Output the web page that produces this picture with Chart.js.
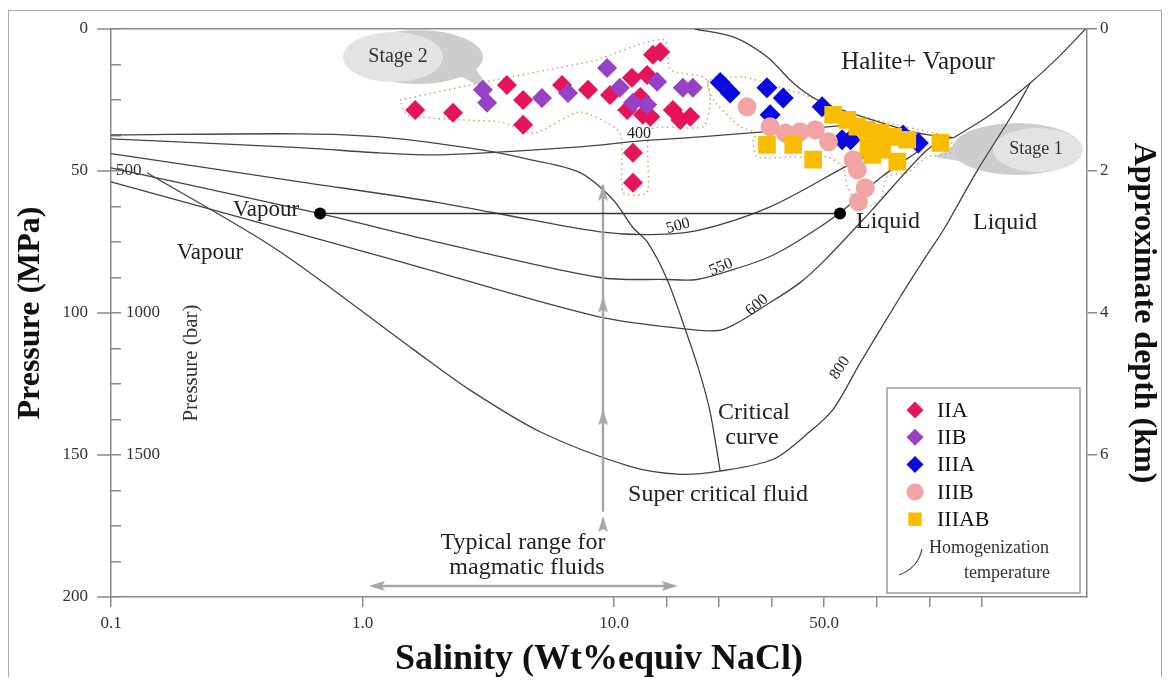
<!DOCTYPE html>
<html>
<head>
<meta charset="utf-8">
<title>Salinity - Pressure diagram</title>
<script src="https://cdn.jsdelivr.net/npm/chart.js@4.4.1/dist/chart.umd.min.js"></script>
<style>
  html, body { margin: 0; padding: 0; background: #fff; }
  #wrap { position: relative; width: 1169px; height: 681px; }
  #frame { position: absolute; left: 8px; top: 10px; width: 1152px; height: 666px;
           border: 1.5px solid #a9a9a9; border-bottom: none; pointer-events: none; }
  canvas { display: block; }
</style>
</head>
<body>
<div id="wrap">
  <canvas id="chart" width="1169" height="681"></canvas>
  <div id="frame"></div>
</div>
<script>
/* ============================================================
   NaCl-H2O pressure vs salinity diagram (fluid inclusions)
   x = salinity (wt% NaCl equiv), y = pressure (MPa)
   ============================================================ */

const X_TICKS  = [0.1, 1, 10, 20, 30, 40, 50, 60, 70, 80];
const X_LABELS = ['0.1', '1.0', '10.0', '', '', '', '50.0', '', '', ''];
const BAR_LABELS = [500, 1000, 1500];           // bar equivalents on the MPa axis

// inclusion groups  [salinity, pressure]
const IIA = [
  [1.62, 28.5], [2.29, 29.5], [3.75, 19.7], [4.35, 25.0], [4.35, 33.7],
  [6.21, 19.7], [7.88, 21.4], [9.64, 23.2], [13.4, 17.2], [16.3, 16.2],
  [17.4, 9.1], [18.8, 8.1], [12.5, 28.5], [15.5, 30.2], [16.9, 30.9],
  [21.2, 28.5], [24.5, 30.9], [22.6, 32.0], [15.0, 23.9], [13.6, 43.6],
  [13.6, 54.1]
];
const IIB = [
  [3.01, 21.4], [3.13, 26.0], [5.17, 24.3], [6.56, 22.5], [9.38, 13.7],
  [11.1, 20.7], [13.6, 26.0], [16.3, 26.7], [18.2, 18.6], [23.1, 20.7],
  [25.0, 20.7]
];
const IIIA = [
  [30.2, 18.8], [32.1, 22.5], [39.1, 20.7], [42.2, 24.3], [39.7, 30.2],
  [49.6, 27.4], [53.4, 39.0], [55.0, 39.0], [65.0, 37.3], [67.9, 40.1]
];
const IIIB = [
  [35.3, 27.4], [39.7, 34.4], [42.6, 36.6], [45.4, 36.2], [48.3, 35.5],
  [50.8, 39.7], [55.5, 46.0], [56.3, 49.6], [57.8, 55.9], [56.5, 60.8]
];
const IIIAB = [
  [39.1, 40.8], [44.1, 40.8], [47.9, 46.0], [51.7, 30.2], [54.4, 32.0],
  [56.3, 34.4], [58.2, 35.5], [60.7, 36.6], [63.1, 38.0], [65.8, 39.0],
  [58.4, 41.8], [61.0, 42.5], [63.9, 46.7], [72.1, 40.1], [59.1, 44.3]
];

// phase boundaries and homogenization isotherms
const CRITICAL = [[0.1, 37.3], [0.564, 36.9], [1.17, 38], [2.93, 42.5], [4.63, 46], [7.32, 50.6],
  [9.91, 60.1], [13.6, 69.9], [16.3, 74.9], [20.1, 88.2], [23.9, 107.6], [26.4, 121.6], [28.3, 135], [30.2, 155.7]];
const T400 = [[0.1, 38.7], [0.564, 41.8], [1.17, 43.6], [2.03, 44.3], [7.32, 41.5], [15, 39.4],
  [26.4, 38], [38.4, 36.2], [53, 34.1]];
const T500 = [[0.1, 43.9], [0.564, 53.8], [2.03, 61.2], [4.63, 67.1], [8.79, 71.4], [16.9, 72.4],
  [25.8, 71], [39.7, 62.6], [53.6, 48.9], [62.6, 40.1]];
const T550 = [[0.1, 48.9], [0.678, 65], [2.03, 75.2], [8.79, 87.5], [20.1, 88.2], [25.8, 88.2],
  [32.7, 84.7], [39.7, 80.1], [45.4, 74.2], [53, 64.7], [60.7, 52.4], [68.3, 42.5]];
const T600 = [[0.1, 53.8], [1.41, 81.9], [8.55, 101.2], [24.5, 105.8], [30.8, 105.8], [39.7, 96.3],
  [45.4, 89.3], [50.2, 81.2], [58.8, 64.3], [69.6, 42.5], [74, 38.3]];
const T800 = [[0.139, 50.6], [0.457, 77.7], [1.59, 112.8], [2.65, 126.9], [5.13, 142], [13, 154],
  [22.6, 156.8], [30, 155.7], [40.3, 151.5], [47.1, 142], [51.7, 133.9], [56.9, 117.4], [64.5, 94.2],
  [69.6, 79.4], [72.7, 70.7], [79.2, 49.6], [86, 29.5], [89.2, 19]];
const LIQUIDUS = [[74.6, 38.3], [81.6, 30.2], [89.2, 19], [95, 9.1], [99.7, 0]];
const HALITE_VAPOUR = [[25.4, 0], [32.7, 2.8], [39.1, 9.8], [44.1, 19], [48.7, 25], [55, 29.5],
  [67.7, 36.6], [74.6, 38.3]];
const TIE_LINE = [[0.678, 65], [53, 65]];

// dotted envelopes around the two stages
const ENV_STAGE2 = [[1.41, 25], [2.93, 19], [5.41, 14.4], [8.55, 10.9], [15, 5.3], [19.7, 3.9],
  [20.7, 14.4], [27.3, 17.2], [28.3, 25], [27, 34.4], [16.9, 35.5], [16.3, 57.6], [11.7, 57.6],
  [11.1, 36.6], [7.32, 29.2], [4.85, 36.6], [3.52, 32.7], [2.44, 32], [1.5, 30.2], [1.41, 25]];
const ENV_STAGE1 = [[28.3, 17.9], [34.6, 16.9], [47.3, 23.9], [53, 28.5], [62, 33], [70.8, 36.6],
  [74, 38], [74, 43.6], [69.6, 45], [65.8, 50.6], [62, 52], [60.7, 60.1], [58.2, 62.6], [56.3, 61.2],
  [54.4, 55.5], [53.6, 48.5], [50.6, 45], [45.4, 45], [37.2, 45], [36.5, 39], [37.2, 36.6], [34, 34.4],
  [28.9, 25], [27.7, 19], [28.3, 17.9]];

// grey arrows (magmatic fluids)
const ARROW_V = [[9.04, 54.8], [9.04, 170]];
const ARROW_V_HEADS = [[9.04, 57.6], [9.04, 97], [9.04, 136.7], [9.04, 174.3]];
const ARROW_H = [[1.14, 196.1], [20.6, 196.1]];

const FONT = '"Liberation Serif", "Times New Roman", serif';
const AXIS_COLOR = '#8a8a8a';
const CURVE_COLOR = '#444';
const ARROW_COLOR = '#a6a6a6';

/* ---------- salinity axis: log from 0.1 to 10, linear from 10 to 100 ---------- */
const LOG_SHARE = 0.5154;

function salFrac(v) {
  v = Math.max(v, 1e-4);
  if (v <= 10) return (Math.log10(v) + 1) / 2 * LOG_SHARE;
  return LOG_SHARE + (v - 10) / 90 * (1 - LOG_SHARE);
}
function salInv(f) {
  if (f <= LOG_SHARE) return Math.pow(10, f / LOG_SHARE * 2 - 1);
  return 10 + (f - LOG_SHARE) / (1 - LOG_SHARE) * 90;
}

class SalinityScale extends Chart.Scale {
  determineDataLimits() { this.min = 0.1; this.max = 100; }
  buildTicks() { return X_TICKS.map(v => ({ value: v })); }
  getLabelForValue(v) { return String(v); }
  getPixelForValue(v) { return this.getPixelForDecimal(salFrac(v)); }
  getValueForPixel(px) { return salInv(this.getDecimalForPixel(px)); }
  getPixelForTick(i) {
    const t = this.ticks[i];
    return t ? this.getPixelForValue(t.value) : null;
  }
}
SalinityScale.id = 'salinity';
SalinityScale.defaults = {};
Chart.register(SalinityScale);

// narrow arrowhead used as point style
function makeArrowHead() {
  const c = document.createElement('canvas');
  c.width = 12; c.height = 16;
  const g = c.getContext('2d');
  g.fillStyle = ARROW_COLOR;
  g.beginPath();
  g.moveTo(6, 0); g.lineTo(11, 16); g.lineTo(6, 13); g.lineTo(1, 16);
  g.closePath(); g.fill();
  return c;
}
const arrowHead = makeArrowHead();

function text(ctx, str, x, y, size, opt) {
  opt = opt || {};
  ctx.save();
  ctx.translate(x, y);
  if (opt.rot) ctx.rotate(opt.rot * Math.PI / 180);
  ctx.font = (opt.bold ? 'bold ' : '') + size + 'px ' + FONT;
  ctx.fillStyle = opt.color || '#222';
  ctx.textAlign = opt.align || 'center';
  ctx.textBaseline = 'middle';
  ctx.fillText(str, 0, 0);
  ctx.restore();
}

function curve(label, data, extra) {
  return Object.assign({
    label: label, data: data, showLine: true, pointRadius: 0,
    borderColor: CURVE_COLOR, borderWidth: 1.3, tension: 0.3, order: 6
  }, extra || {});
}

function marker(label, data, style, radius, color, order) {
  return {
    label: label, data: data, pointStyle: style, pointRadius: radius,
    backgroundColor: color, borderWidth: 0, order: order, legendRow: true
  };
}

const datasets = [
  marker('IIA', IIA, 'rectRot', 10, '#e8145a', 4),
  marker('IIB', IIB, 'rectRot', 10, '#9641c8', 3),
  marker('IIIA', IIIA, 'rectRot', 10.5, '#0a0ae0', 2),
  marker('IIIB', IIIB, 'circle', 9.5, '#f2a3a3', 1),
  marker('IIIAB', IIIAB, 'rect', 12.5, '#f8bc00', 0),
  curve('Critical curve', CRITICAL),
  curve('400', T400),
  curve('500', T500),
  curve('550', T550),
  curve('600', T600),
  curve('800', T800),
  curve('Halite liquidus', LIQUIDUS),
  curve('Halite + vapour', HALITE_VAPOUR),
  curve('Envelope stage 2', ENV_STAGE2, { borderColor: '#d2a85c', borderWidth: 1.5, borderDash: [1.5, 3.5], tension: 0.2, order: 7 }),
  curve('Envelope stage 1', ENV_STAGE1, { borderColor: '#d2a85c', borderWidth: 1.5, borderDash: [1.5, 3.5], tension: 0.2, order: 7 }),
  curve('Tie line', TIE_LINE, { borderColor: '#333', borderWidth: 1.5, tension: 0, pointRadius: 6,
    pointBackgroundColor: '#000', pointBorderWidth: 0, order: 5 }),
  curve('Arrow v', ARROW_V, { borderColor: ARROW_COLOR, borderWidth: 2.5, tension: 0, order: 5 }),
  { label: 'Arrow v heads', data: ARROW_V_HEADS, pointStyle: arrowHead, pointRadius: 6, order: 5 },
  curve('Arrow h', ARROW_H, { borderColor: ARROW_COLOR, borderWidth: 2.5, tension: 0, order: 5,
    pointStyle: arrowHead, pointRadius: 6, pointRotation: c => c.dataIndex === 0 ? -90 : 90 })
];

/* ---------- annotations, callouts, legend ---------- */
const NOTES = [
  ['Halite+ Vapour', 918, 62, 25],
  ['Liquid', 888, 222, 24], ['Liquid', 1005, 223, 24],
  ['Vapour', 266, 210, 23], ['Vapour', 210, 253, 23],
  ['Critical', 754, 413, 24], ['curve', 752, 438, 24],
  ['Super critical fluid', 718, 495, 24],
  ['Typical range for', 523, 543, 24], ['magmatic fluids', 527, 568, 24],
  ['400', 639, 134, 16, 0], ['500', 678, 226, 16, -15], ['550', 721, 267, 16, -22],
  ['600', 757, 305, 16, -40], ['800', 840, 368, 16, -57]
];

const decor = {
  id: 'decor',
  beforeDatasetsDraw(chart) {
    const ctx = chart.ctx;
    ctx.save();
    // Stage 2 bubble
    ctx.fillStyle = '#cdcdcd';
    ctx.beginPath(); ctx.ellipse(418, 57, 65, 27, 0, 0, Math.PI * 2); ctx.fill();
    ctx.beginPath(); ctx.moveTo(458, 75); ctx.lineTo(474, 66); ctx.lineTo(491, 92); ctx.closePath(); ctx.fill();
    ctx.fillStyle = '#e3e3e3';
    ctx.beginPath(); ctx.ellipse(393, 57, 50, 25, 0, 0, Math.PI * 2); ctx.fill();
    // Stage 1 bubble
    ctx.fillStyle = '#ccd2d9';
    ctx.beginPath(); ctx.moveTo(934, 157); ctx.lineTo(968, 138); ctx.lineTo(970, 163); ctx.closePath(); ctx.fill();
    ctx.fillStyle = '#cdcdcd';
    ctx.beginPath(); ctx.ellipse(1017, 149, 65, 26, 0, 0, Math.PI * 2); ctx.fill();
    ctx.fillStyle = '#e3e3e3';
    ctx.beginPath(); ctx.ellipse(1038, 150, 45, 22, 0, 0, Math.PI * 2); ctx.fill();
    ctx.restore();
    text(ctx, 'Stage 2', 398, 57, 20, { color: '#333' });
    text(ctx, 'Stage 1', 1036, 149, 18, { color: '#333' });
  },
  afterDatasetsDraw(chart) {
    const ctx = chart.ctx;
    const ys = chart.scales.y;
    const left = chart.chartArea.left;

    NOTES.forEach(n => text(ctx, n[0], n[1], n[2], n[3], { rot: n[4] || 0 }));

    // bar labels next to the MPa axis
    BAR_LABELS.forEach(b => {
      const x = b === 500 ? left + 5 : left + 15;
      text(ctx, String(b), x, ys.getPixelForValue(b / 10), 17, { align: 'left', color: '#333' });
    });
    text(ctx, 'Pressure (bar)', 191, 363, 21, { rot: -90, color: '#333' });

    // outer half of the major pressure ticks
    ctx.save();
    ctx.strokeStyle = AXIS_COLOR; ctx.lineWidth = 1.5;
    [0, 50, 100, 150, 200].forEach(v => {
      const y = ys.getPixelForValue(v);
      ctx.beginPath(); ctx.moveTo(left - 14, y); ctx.lineTo(left, y); ctx.stroke();
    });
    ctx.restore();

    // legend box
    const bx = 887, by = 388, bw = 193, bh = 205;
    ctx.save();
    ctx.fillStyle = '#fff';
    ctx.fillRect(bx, by, bw, bh);
    ctx.strokeStyle = '#9a9a9a'; ctx.lineWidth = 1.5;
    ctx.strokeRect(bx, by, bw, bh);
    const rows = chart.data.datasets.filter(d => d.legendRow);
    rows.forEach((d, i) => {
      const y = 410 + i * 27.3;
      ctx.fillStyle = d.backgroundColor;
      Chart.helpers.drawPoint(ctx, {
        pointStyle: d.pointStyle, rotation: 0,
        radius: d.pointStyle === 'rect' ? 9.5 : 8.5, borderWidth: 0
      }, 915, y);
      text(ctx, d.label, 937, y + 1, 22, { align: 'left', color: '#111' });
    });
    ctx.strokeStyle = '#444'; ctx.lineWidth = 1.2;
    ctx.beginPath(); ctx.moveTo(899, 575); ctx.quadraticCurveTo(918, 568, 922, 549); ctx.stroke();
    ctx.restore();
    text(ctx, 'Homogenization', 929, 548, 18, { align: 'left', color: '#333' });
    text(ctx, 'temperature', 1007, 573, 18, { color: '#333' });
  }
};

const tickFont = { family: FONT, size: 17 };
const titleFont = { family: FONT, size: 32, weight: 'bold' };

new Chart(document.getElementById('chart'), {
  type: 'scatter',
  data: { datasets: datasets },
  plugins: [decor],
  options: {
    responsive: false,
    animation: false,
    events: [],
    layout: { padding: { top: 29, left: 0, right: 0, bottom: 0 } },
    plugins: { legend: { display: false }, tooltip: { enabled: false } },
    scales: {
      x: {
        type: 'salinity', position: 'bottom',
        ticks: { autoSkip: false, maxRotation: 0, padding: 6, color: '#333', font: tickFont,
                 callback: (v, i) => X_LABELS[i] },
        grid: { drawOnChartArea: false, tickLength: 10, color: AXIS_COLOR, lineWidth: 1.5 },
        border: { color: AXIS_COLOR, width: 1.5 },
        title: { display: true, text: 'Salinity (Wt%equiv NaCl)', color: '#111',
                 font: { family: FONT, size: 36, weight: 'bold' }, padding: { top: 0, bottom: 0 } },
        afterFit: s => { s.height = 84; }
      },
      xTop: {
        type: 'linear', position: 'top',
        ticks: { display: false }, grid: { display: false },
        border: { color: AXIS_COLOR, width: 1.5 },
        afterFit: s => { s.height = 0; }
      },
      y: {
        type: 'linear', position: 'left', reverse: true, min: 0, max: 200,
        ticks: { stepSize: 12.5, autoSkip: false, padding: 33, color: '#333', font: tickFont,
                 callback: v => (v % 50 === 0 ? String(v) : '') },
        grid: { drawOnChartArea: false, tickLength: -10, color: AXIS_COLOR, lineWidth: 1.5 },
        border: { color: AXIS_COLOR, width: 1.5 },
        title: { display: true, text: 'Pressure (MPa)', color: '#111', font: titleFont,
                 padding: { top: 12, bottom: 0 } },
        afterFit: s => { s.width = 111; s.paddingTop = 0; s.paddingBottom = 0; }
      },
      y2: {
        type: 'linear', position: 'right', reverse: true, min: 0, max: 8,
        ticks: { stepSize: 2, autoSkip: false, padding: 3, color: '#333', font: tickFont,
                 callback: v => (v < 8 ? String(v) : '') },
        grid: { drawOnChartArea: false, tickLength: 10, lineWidth: 1.5,
                tickColor: c => (c.tick && c.tick.value >= 8 ? 'rgba(0,0,0,0)' : AXIS_COLOR) },
        border: { color: AXIS_COLOR, width: 1.5 },
        title: { display: true, text: 'Approximate depth (km)', color: '#111', font: titleFont,
                 padding: { top: 7, bottom: 0 } },
        afterFit: s => { s.width = 82; s.paddingTop = 0; s.paddingBottom = 0; }
      }
    }
  }
});
</script>
</body>
</html>
